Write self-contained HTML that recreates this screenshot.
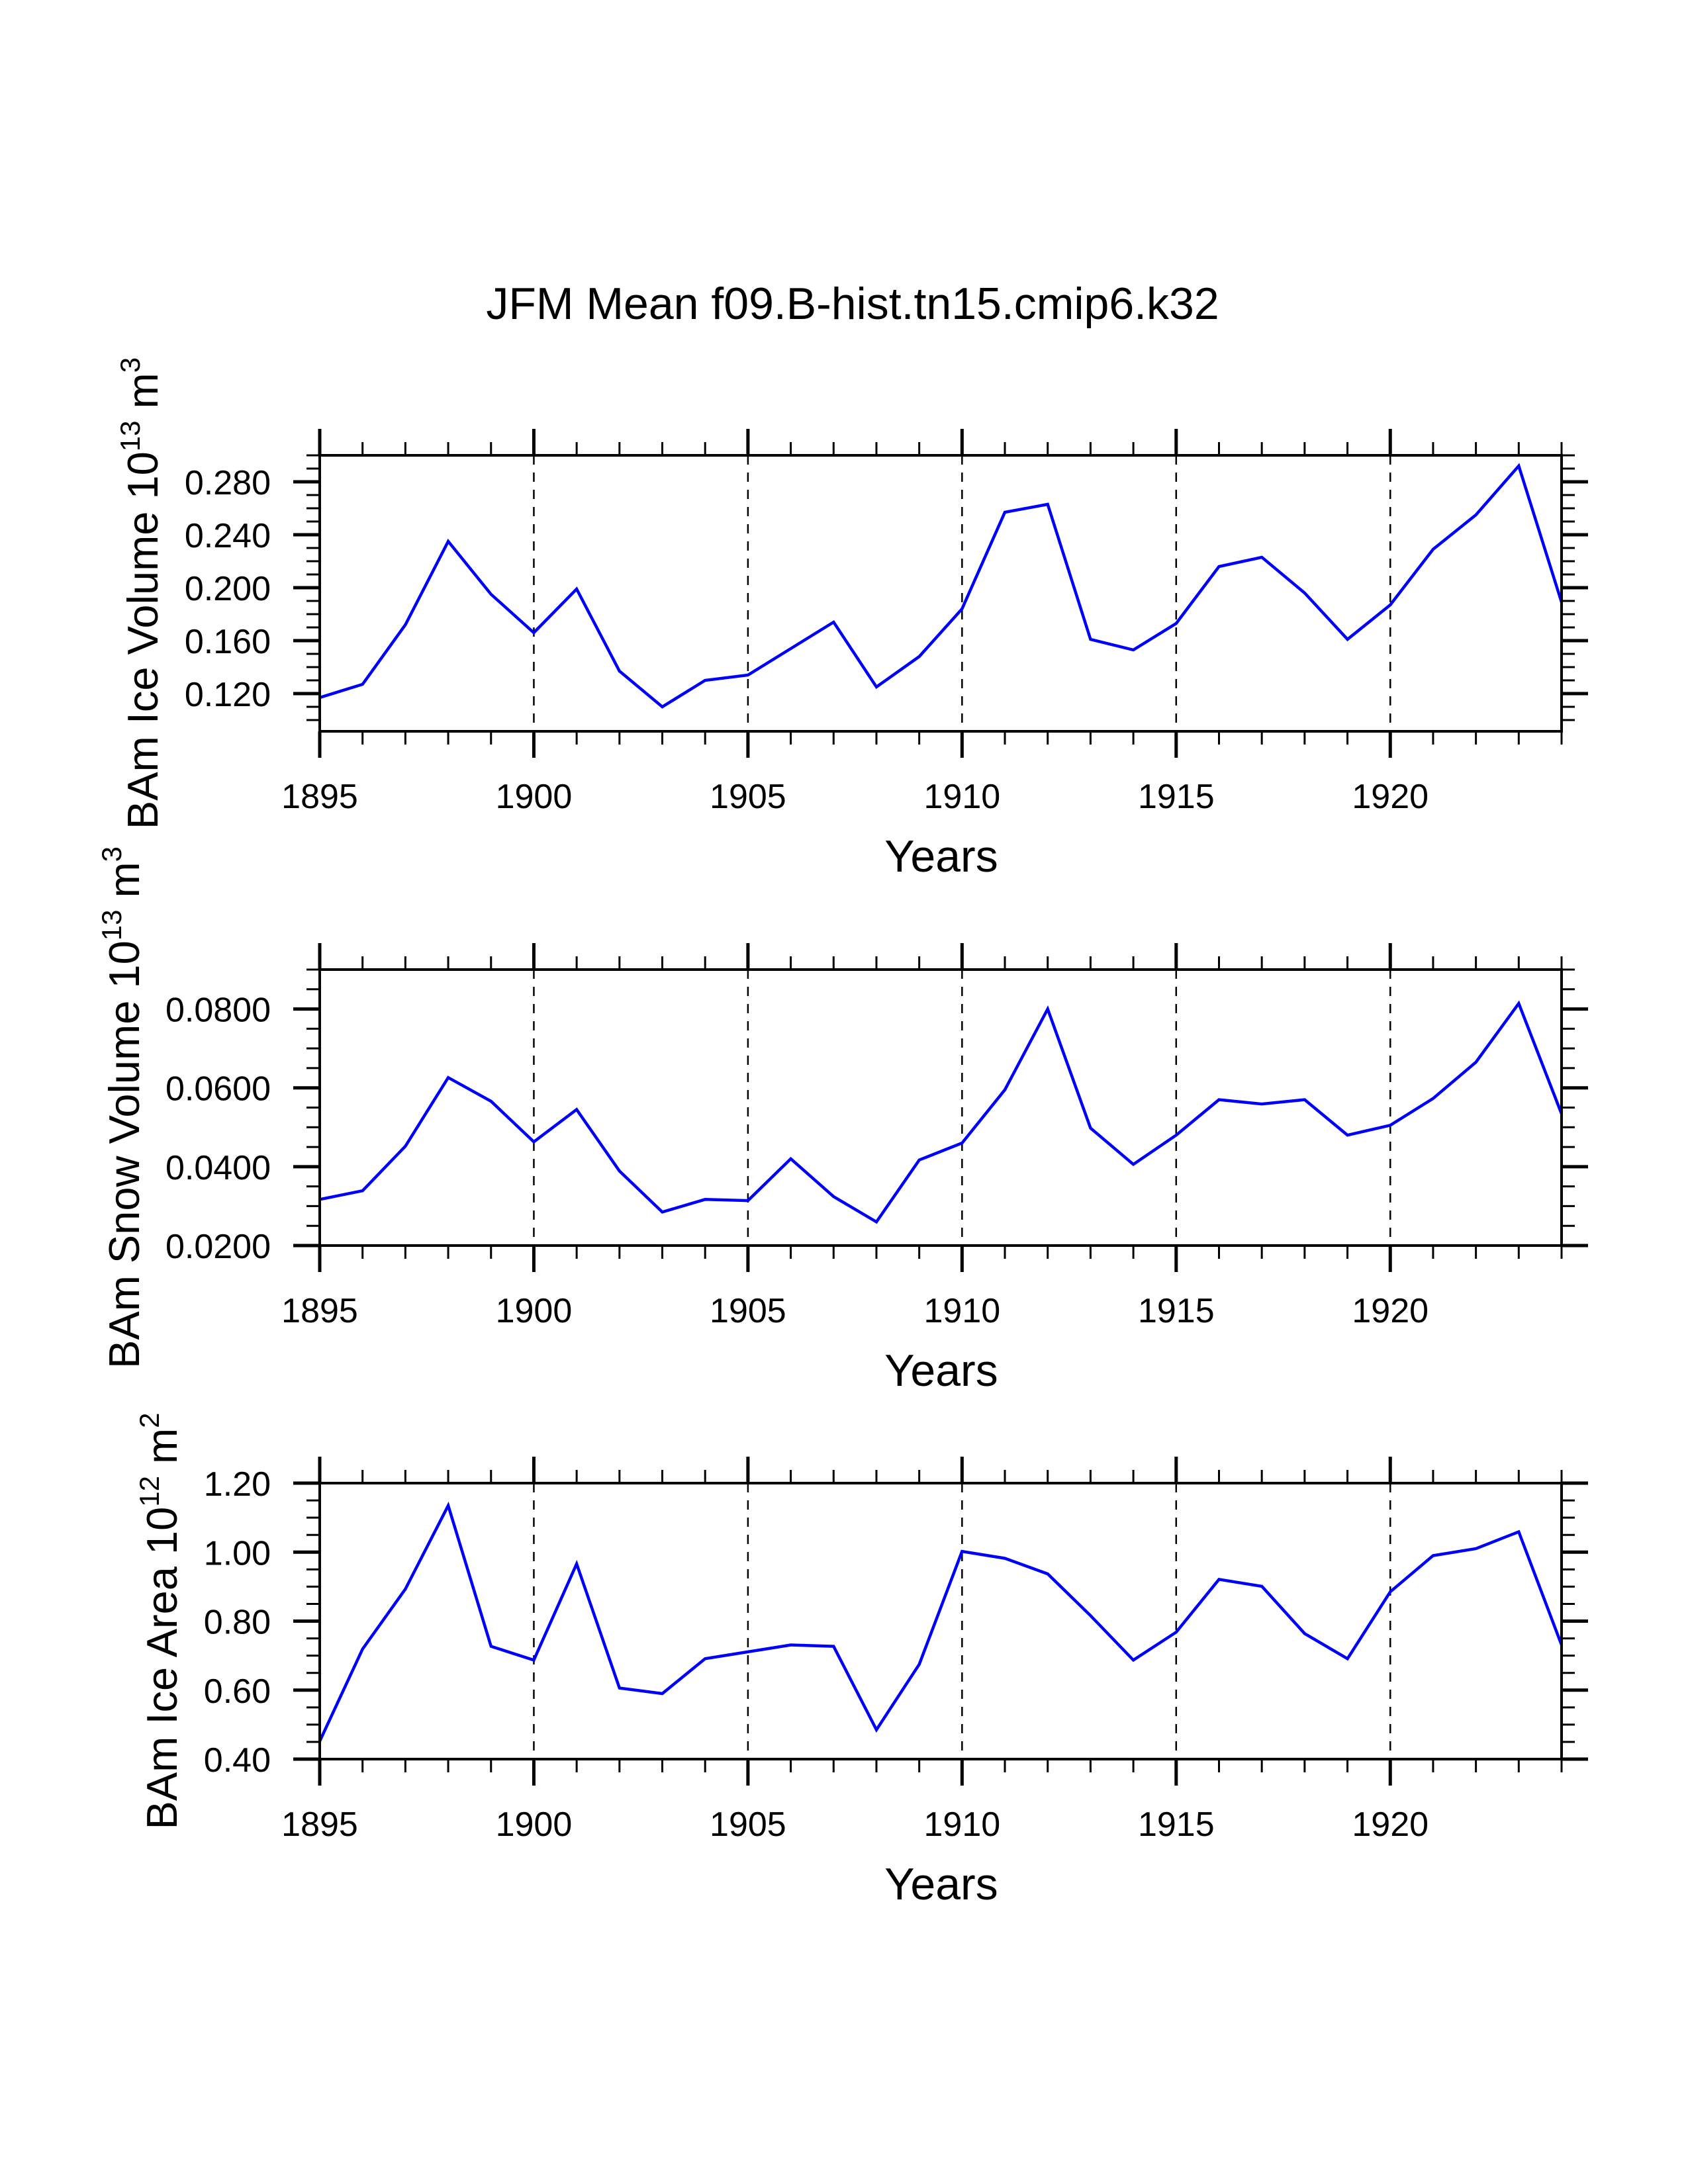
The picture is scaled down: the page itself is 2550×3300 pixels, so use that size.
<!DOCTYPE html>
<html><head><meta charset="utf-8"><style>
body{margin:0;background:#fff}
svg{display:block}
text{font-family:"Liberation Sans",sans-serif;fill:#000}
</style></head><body>
<svg id="chart" width="2550" height="3300" viewBox="0 0 2550 3300" xmlns="http://www.w3.org/2000/svg">
<text x="1288" y="482" font-size="68" text-anchor="middle">JFM Mean f09.B-hist.tn15.cmip6.k32</text>
</svg>
<script>
const years = [1895,1896,1897,1898,1899,1900,1901,1902,1903,1904,1905,1906,1907,1908,1909,1910,1911,1912,1913,1914,1915,1916,1917,1918,1919,1920,1921,1922,1923,1924];
const iceVolume = [0.117,0.127,0.172,0.235,0.195,0.166,0.199,0.137,0.110,0.130,0.134,0.154,0.174,0.125,0.148,0.184,0.257,0.263,0.161,0.153,0.173,0.216,0.223,0.196,0.161,0.187,0.229,0.255,0.292,0.189];
const snowVolume = [0.0317,0.0339,0.0452,0.0626,0.0566,0.0463,0.0545,0.0389,0.0285,0.0317,0.0314,0.0420,0.0324,0.0260,0.0417,0.0460,0.0595,0.0800,0.0498,0.0406,0.0480,0.0570,0.0559,0.0570,0.0480,0.0505,0.0573,0.0665,0.0814,0.0534];
const iceArea = [0.452,0.719,0.893,1.135,0.727,0.687,0.966,0.606,0.590,0.691,0.711,0.731,0.727,0.485,0.675,1.002,0.982,0.937,0.816,0.687,0.768,0.921,0.901,0.764,0.691,0.885,0.990,1.010,1.059,0.731];
const xTickLabels = ["1895","1900","1905","1910","1915","1920"];
const iceVolTicks = ["0.120","0.160","0.200","0.240","0.280"];
const snowVolTicks = ["0.0200","0.0400","0.0600","0.0800"];
const iceAreaTicks = ["0.40","0.60","0.80","1.00","1.20"];

const NS="http://www.w3.org/2000/svg";
const svg=document.getElementById('chart');
function mk(tag,attrs,parent){const e=document.createElementNS(NS,tag);for(const k in attrs)e.setAttribute(k,attrs[k]);(parent||svg).appendChild(e);return e;}

const X0=483,X1=2359,XMIN=1895,XMAX=1924;
function xs(v){return X0+(v-XMIN)/(XMAX-XMIN)*(X1-X0);}

function panel(key,top,bottom,ymin,ymax,minorStep,ticks,values,titleMain,titleExp,titleUnit,titleX){
  const g=mk('g',{});
  
  
  const ys=v=>bottom-(v-ymin)/(ymax-ymin)*(bottom-top);
  for(let y=1900;y<=1920;y+=5){
    const l=mk('line',{x1:xs(y),x2:xs(y),y1:top,y2:bottom,stroke:'#000','stroke-width':2.5,'stroke-dasharray':'14,12'},g);
    
    
  }
  const pts=years.map((y,i)=>xs(y).toFixed(1)+','+ys(values[i]).toFixed(1)).join(' ');
  const pl=mk('polyline',{points:pts,fill:'none',stroke:'#0000ff','stroke-width':4.5,'stroke-linejoin':'miter'},g);
  
  
  const fr=mk('rect',{x:X0,y:top,width:X1-X0,height:bottom-top,fill:'none',stroke:'#000','stroke-width':4},g);
  
  
  for(let y=XMIN;y<=XMAX;y++){
    const maj=(y%5===0);const L=maj?40:20;const w=maj?5:3;
    mk('line',{x1:xs(y),x2:xs(y),y1:top-L,y2:top,stroke:'#000','stroke-width':w},g);
    mk('line',{x1:xs(y),x2:xs(y),y1:bottom,y2:bottom+L,stroke:'#000','stroke-width':w},g);
  }
  xTickLabels.forEach(s=>{
    const t=mk('text',{x:xs(+s),y:bottom+116,'font-size':52,'text-anchor':'middle'},g);
    t.textContent=s;
    
    
  });
  const xt=mk('text',{x:1422,y:bottom+212,'font-size':68,'text-anchor':'middle'},g);
  xt.textContent='Years';
  
  
  const start=Math.ceil(ymin/minorStep-1e-6);
  for(let k=start;k*minorStep<=ymax+1e-9;k++){
    const v=k*minorStep;const yy=ys(v);
    mk('line',{x1:X0-20,x2:X0,y1:yy,y2:yy,stroke:'#000','stroke-width':3},g);
    mk('line',{x1:X1,x2:X1+20,y1:yy,y2:yy,stroke:'#000','stroke-width':3},g);
  }
  ticks.forEach(s=>{
    const yy=ys(parseFloat(s));
    mk('line',{x1:X0-40,x2:X0,y1:yy,y2:yy,stroke:'#000','stroke-width':5},g);
    mk('line',{x1:X1,x2:X1+40,y1:yy,y2:yy,stroke:'#000','stroke-width':5},g);
    const t=mk('text',{x:409,y:yy+19,'font-size':52,'text-anchor':'end'},g);
    t.textContent=s;
    
    
  });
  const cy=(top+bottom)/2;
  const yt=mk('text',{x:0,y:0,'font-size':65,'text-anchor':'middle',transform:`translate(${titleX},${cy}) rotate(-90)`},g);
  
  
  const a=mk('tspan',{},yt);a.textContent=titleMain;
  const b=mk('tspan',{dy:-27,'font-size':42},yt);b.textContent=titleExp;
  const c=mk('tspan',{dy:27,'font-size':65},yt);c.textContent=' '+titleUnit.split('^')[0];
  if(titleUnit.includes('^')){const d=mk('tspan',{dy:-27,'font-size':42},yt);d.textContent=titleUnit.split('^')[1];}
}
panel('ice-volume',688,1105,0.0915,0.300,0.01,iceVolTicks,iceVolume,'BAm Ice Volume 10','13','m^3',238);
panel('snow-volume',1465,1882,0.02,0.09,0.005,snowVolTicks,snowVolume,'BAm Snow Volume 10','13','m^3',210);
panel('ice-area',2241,2658,0.40,1.20,0.05,iceAreaTicks,iceArea,'BAm Ice Area 10','12','m^2',267);
</script>
</body></html>
